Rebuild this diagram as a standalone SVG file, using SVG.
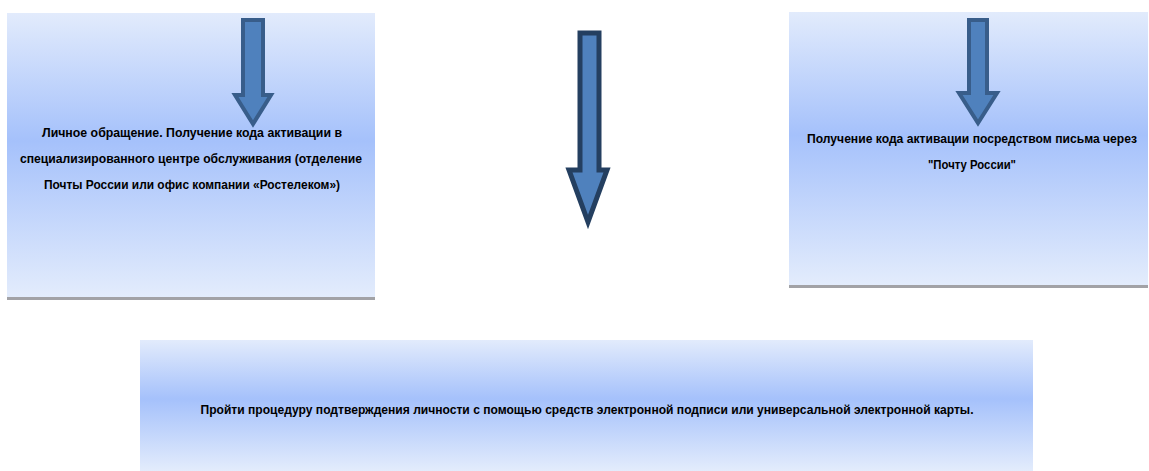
<svg xmlns="http://www.w3.org/2000/svg" width="1149" height="471" viewBox="0 0 1149 471">
<defs>
<linearGradient id="g" x1="0" y1="0" x2="0" y2="1">
<stop offset="0" stop-color="#e2ebfc"/>
<stop offset="0.45" stop-color="#a5c1fb"/>
<stop offset="1" stop-color="#e3ecfc"/>
</linearGradient>
<style>
.box{fill:url(#g)}
.bar{fill:#a2a2a6}
.t{font-family:"Liberation Sans",Arial,sans-serif;font-weight:bold;font-size:12px;fill:#000;text-anchor:middle}
.arr{fill:#4f81bd;stroke:#385d8a;stroke-width:4;stroke-linejoin:miter}
.arr2{fill:#4f81bd;stroke:#243f60;stroke-width:5;stroke-linejoin:miter}
</style>
</defs>
<g id="node-left">
<rect class="box" x="7" y="13" width="368" height="284"/>
<rect class="bar" x="7" y="297" width="368" height="3"/>
<text class="t" x="192" y="137" textLength="300" lengthAdjust="spacingAndGlyphs">Личное обращение. Получение кода активации в</text>
<text class="t" x="191" y="163" textLength="342" lengthAdjust="spacingAndGlyphs">специализированного центре обслуживания (отделение</text>
<text class="t" x="192" y="189" textLength="296" lengthAdjust="spacingAndGlyphs">Почты России или офис компании «Ростелеком»)</text>
</g>
<g id="node-right">
<rect class="box" x="789" y="12" width="359" height="273"/>
<rect class="bar" x="789" y="285" width="359" height="3"/>
<text class="t" x="972" y="143" textLength="330" lengthAdjust="spacingAndGlyphs">Получение кода активации посредством письма через</text>
<text class="t" x="972" y="169" textLength="88" lengthAdjust="spacingAndGlyphs">"Почту России"</text>
</g>
<g id="node-bottom">
<rect class="box" x="140" y="340" width="893" height="131"/>
<text class="t" x="587" y="414" textLength="773" lengthAdjust="spacingAndGlyphs">Пройти процедуру подтверждения личности с помощью средств электронной подписи или универсальной электронной карты.</text>
</g>
<g id="connectors">
<path class="arr" d="M243 20 H263 V95 H271 L253 124 L235 95 H243 Z"/>
<path class="arr2" d="M580 33 H599 V170 H607 L588 222 L569 170 H580 Z"/>
<path class="arr" d="M969 20 H987 V93 H997 L978 123 L959 93 H969 Z"/>
</g>
</svg>
